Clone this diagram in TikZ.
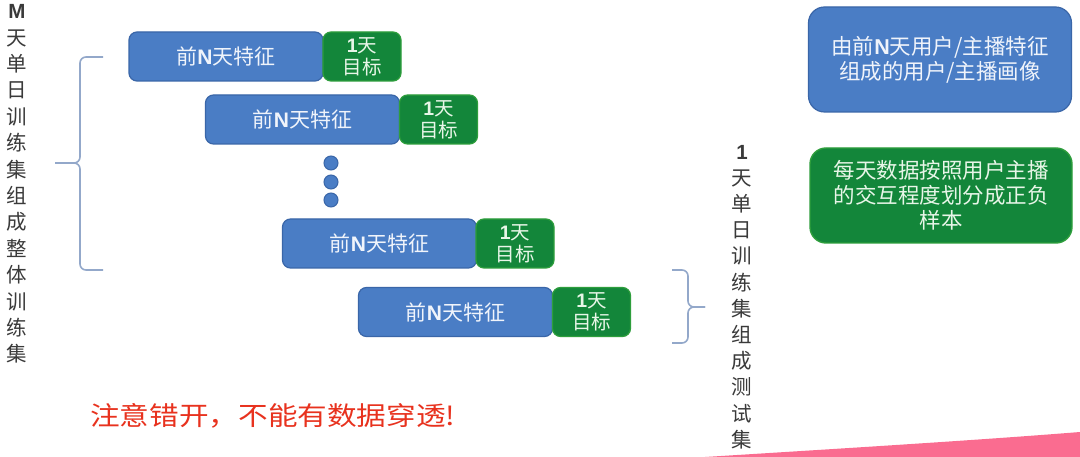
\documentclass[tikz,border=0pt]{standalone}
\usepackage{fontspec}
\usepackage{graphicx}
\setmainfont{Noto Sans CJK SC}
\newfontfamily\lat{Liberation Sans}
\definecolor{bfill}{HTML}{4A7DC5}
\definecolor{bdraw}{HTML}{3A66A8}
\definecolor{gfill}{HTML}{13863A}
\definecolor{gdraw}{HTML}{2E9E3C}
\definecolor{btext}{HTML}{F0F4FB}
\definecolor{gtext}{HTML}{E8F6E8}
\definecolor{bracec}{HTML}{93A8CA}
\definecolor{greytext}{HTML}{3A3A3A}
\definecolor{redtext}{HTML}{E8321E}
\definecolor{pinkc}{HTML}{FA6C90}
\newcommand{\BN}{{\lat\bfseries N}}
\newcommand{\BO}{{\lat\bfseries 1}}
\tikzset{
  featbox/.style={draw=bdraw, fill=bfill, line width=1.2pt, rounded corners=8pt,
    minimum width=194pt, minimum height=49pt, inner sep=0pt, text=btext,
    font=\fontsize{21}{23}\selectfont},
  tgtbox/.style={draw=gdraw, fill=gfill, line width=1.2pt, rounded corners=8pt,
    minimum width=78pt, minimum height=49pt, inner sep=0pt, text=gtext,
    align=center, font=\fontsize{19.5}{22}\selectfont},
  dotc/.style={circle, draw=bdraw, fill=bfill, line width=1pt, minimum size=14pt, inner sep=0pt},
  bracestyle/.style={draw=bracec, line width=1.6pt, rounded corners=6pt},
  coltext/.style={align=center, text=greytext, inner sep=0pt},
  infob/.style={draw=bdraw, fill=bfill, line width=1.2pt, rounded corners=16pt,
    minimum width=263pt, minimum height=105pt, inner sep=0pt, text=btext,
    align=center, font=\fontsize{21.5}{25}\selectfont},
  infog/.style={draw=gdraw, fill=gfill, line width=1.4pt, rounded corners=16pt,
    minimum width=262pt, minimum height=95pt, inner sep=0pt, text=gtext,
    align=center, font=\fontsize{21.5}{25}\selectfont},
}
\begin{document}
\begin{tikzpicture}[x=1pt,y=-1pt]
\useasboundingbox (0,0) rectangle (1080,457);
\fill[white] (0,0) rectangle (1080,457);
% pink swoosh
\fill[pinkc] (705,457) .. controls (850,448) and (980,440) .. (1080,432) -- (1080,457) -- cycle;

% left column text
\node[coltext, font=\fontsize{20.5}{26.4}\selectfont] (lcol) at (17,184)
  {{\lat\bfseries M}\\天\\单\\日\\训\\练\\集\\组\\成\\整\\体\\训\\练\\集};
% right column text
\node[coltext, font=\fontsize{20.5}{26.2}\selectfont] (rcol) at (742,297)
  {\BO\\天\\单\\日\\训\\练\\集\\组\\成\\测\\试\\集};

% rows
\node[featbox] (f1) at (226,56.5) {前\BN 天特征};
\node[tgtbox] (t1) at (362,56.5) {\BO 天\\目标};
\node[featbox] (f2) at (302.5,119.5) {前\BN 天特征};
\node[tgtbox] (t2) at (438.5,119.5) {\BO 天\\目标};
\node[dotc] (d1) at (331,163) {};
\node[dotc] (d2) at (331,182) {};
\node[dotc] (d3) at (331,200) {};
\node[featbox] (f3) at (379.5,243.5) {前\BN 天特征};
\node[tgtbox] (t3) at (515,243.5) {\BO 天\\目标};
\node[featbox] (f4) at (455.5,312) {前\BN 天特征};
\node[tgtbox] (t4) at (591.5,312) {\BO 天\\目标};

% braces
\coordinate (lbt) at (103,57);
\coordinate (lbtip) at (55,163);
\coordinate (lbb) at (103,270);
\draw[bracestyle] (lbt) -- (80,57) -- (80,163) -- (lbtip);
\draw[bracestyle] (lbtip) -- (80,163) -- (80,270) -- (lbb);
\coordinate (rbt) at (672,270);
\coordinate (rbtip) at (705,307);
\coordinate (rbb) at (672,343);
\draw[bracestyle] (rbt) -- (688,270) -- (688,307) -- (rbtip);
\draw[bracestyle] (rbtip) -- (688,307) -- (688,343) -- (rbb);

% info boxes
\node[infob] (ib) at (940,59.5) {由前\BN 天用户/主播特征\\组成的用户/主播画像};
\node[infog] (ig) at (941,195.5) {每天数据按照用户主播\\的交互程度划分成正负\\样本};

% warning
\node[text=redtext, font=\fontsize{26}{28}\selectfont, inner sep=0pt, anchor=west] (warn) at (90,416)
  {\scalebox{1.14}[1]{注意错开，不能有数据穿透!}};
\end{tikzpicture}
\end{document}
